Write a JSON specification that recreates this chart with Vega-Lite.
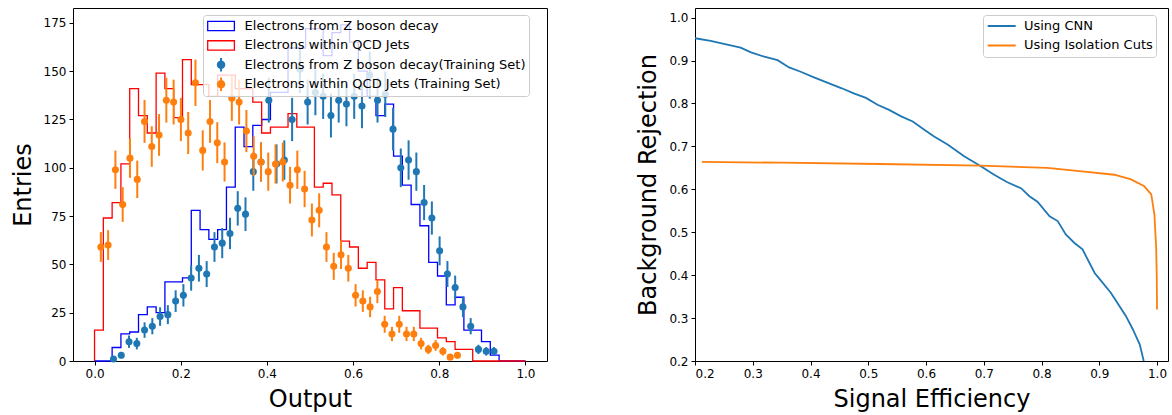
{
  "$schema": "https://vega.github.io/schema/vega-lite/v6.json",
  "background": "white",
  "padding": {"left": 10, "top": 7, "right": 5, "bottom": 0},
  "bounds": "flush",
  "spacing": 148,
  "config": {
    "font": "DejaVu Sans",
    "view": {"stroke": "black", "strokeWidth": 1},
    "axis": {
      "domain": false, "grid": false, "ticks": true, "tickColor": "black", "tickSize": 4, "tickWidth": 1,
      "labelFont": "DejaVu Sans", "labelFontSize": 12, "labelColor": "black", "labelPadding": 3,
      "titleFont": "DejaVu Sans", "titleFontSize": 24, "titleFontWeight": "normal", "titleColor": "black", "titlePadding": 8
    },
    "legend": {
      "labelFont": "DejaVu Sans", "labelFontSize": 13, "labelColor": "black", "labelLimit": 600,
      "fillColor": "rgba(255,255,255,0.8)", "strokeColor": "#cccccc", "cornerRadius": 3, "padding": 3
    }
  },
  "datasets": {
    "hist": [
      {"series": "Electrons from Z boson decay", "edge": 0, "count": 0},
      {"series": "Electrons from Z boson decay", "edge": 0.0204, "count": 0},
      {"series": "Electrons from Z boson decay", "edge": 0.0408, "count": 0},
      {"series": "Electrons from Z boson decay", "edge": 0.0612, "count": 7},
      {"series": "Electrons from Z boson decay", "edge": 0.0816, "count": 14},
      {"series": "Electrons from Z boson decay", "edge": 0.102, "count": 15},
      {"series": "Electrons from Z boson decay", "edge": 0.1224, "count": 24},
      {"series": "Electrons from Z boson decay", "edge": 0.1429, "count": 28},
      {"series": "Electrons from Z boson decay", "edge": 0.1633, "count": 25},
      {"series": "Electrons from Z boson decay", "edge": 0.1837, "count": 41},
      {"series": "Electrons from Z boson decay", "edge": 0.2041, "count": 41},
      {"series": "Electrons from Z boson decay", "edge": 0.2245, "count": 43},
      {"series": "Electrons from Z boson decay", "edge": 0.2449, "count": 78},
      {"series": "Electrons from Z boson decay", "edge": 0.2653, "count": 68},
      {"series": "Electrons from Z boson decay", "edge": 0.2857, "count": 63},
      {"series": "Electrons from Z boson decay", "edge": 0.3061, "count": 68},
      {"series": "Electrons from Z boson decay", "edge": 0.3265, "count": 90},
      {"series": "Electrons from Z boson decay", "edge": 0.3469, "count": 121},
      {"series": "Electrons from Z boson decay", "edge": 0.3673, "count": 111},
      {"series": "Electrons from Z boson decay", "edge": 0.3878, "count": 122},
      {"series": "Electrons from Z boson decay", "edge": 0.4082, "count": 125},
      {"series": "Electrons from Z boson decay", "edge": 0.4286, "count": 139},
      {"series": "Electrons from Z boson decay", "edge": 0.449, "count": 139},
      {"series": "Electrons from Z boson decay", "edge": 0.4694, "count": 162},
      {"series": "Electrons from Z boson decay", "edge": 0.4898, "count": 162},
      {"series": "Electrons from Z boson decay", "edge": 0.5102, "count": 172},
      {"series": "Electrons from Z boson decay", "edge": 0.5306, "count": 172},
      {"series": "Electrons from Z boson decay", "edge": 0.551, "count": 158},
      {"series": "Electrons from Z boson decay", "edge": 0.5714, "count": 170},
      {"series": "Electrons from Z boson decay", "edge": 0.5918, "count": 174},
      {"series": "Electrons from Z boson decay", "edge": 0.6122, "count": 165},
      {"series": "Electrons from Z boson decay", "edge": 0.6327, "count": 150},
      {"series": "Electrons from Z boson decay", "edge": 0.6531, "count": 137},
      {"series": "Electrons from Z boson decay", "edge": 0.6735, "count": 127},
      {"series": "Electrons from Z boson decay", "edge": 0.6939, "count": 133},
      {"series": "Electrons from Z boson decay", "edge": 0.7143, "count": 106},
      {"series": "Electrons from Z boson decay", "edge": 0.7347, "count": 91},
      {"series": "Electrons from Z boson decay", "edge": 0.7551, "count": 81},
      {"series": "Electrons from Z boson decay", "edge": 0.7755, "count": 70},
      {"series": "Electrons from Z boson decay", "edge": 0.7959, "count": 51},
      {"series": "Electrons from Z boson decay", "edge": 0.8163, "count": 44},
      {"series": "Electrons from Z boson decay", "edge": 0.8367, "count": 29},
      {"series": "Electrons from Z boson decay", "edge": 0.8571, "count": 33},
      {"series": "Electrons from Z boson decay", "edge": 0.8776, "count": 16},
      {"series": "Electrons from Z boson decay", "edge": 0.898, "count": 16},
      {"series": "Electrons from Z boson decay", "edge": 0.9184, "count": 10},
      {"series": "Electrons from Z boson decay", "edge": 0.9388, "count": 3},
      {"series": "Electrons from Z boson decay", "edge": 0.9592, "count": 0},
      {"series": "Electrons from Z boson decay", "edge": 0.9796, "count": 0},
      {"series": "Electrons from Z boson decay", "edge": 1.0, "count": 0},
      {"series": "Electrons within QCD Jets", "edge": 0, "count": 0},
      {"series": "Electrons within QCD Jets", "edge": 0.0204, "count": 16},
      {"series": "Electrons within QCD Jets", "edge": 0.0408, "count": 74},
      {"series": "Electrons within QCD Jets", "edge": 0.0612, "count": 82},
      {"series": "Electrons within QCD Jets", "edge": 0.0816, "count": 102},
      {"series": "Electrons within QCD Jets", "edge": 0.102, "count": 141},
      {"series": "Electrons within QCD Jets", "edge": 0.1224, "count": 127},
      {"series": "Electrons within QCD Jets", "edge": 0.1429, "count": 118},
      {"series": "Electrons within QCD Jets", "edge": 0.1633, "count": 149},
      {"series": "Electrons within QCD Jets", "edge": 0.1837, "count": 141},
      {"series": "Electrons within QCD Jets", "edge": 0.2041, "count": 126},
      {"series": "Electrons within QCD Jets", "edge": 0.2245, "count": 156},
      {"series": "Electrons within QCD Jets", "edge": 0.2449, "count": 143},
      {"series": "Electrons within QCD Jets", "edge": 0.2653, "count": 143},
      {"series": "Electrons within QCD Jets", "edge": 0.2857, "count": 137},
      {"series": "Electrons within QCD Jets", "edge": 0.3061, "count": 148},
      {"series": "Electrons within QCD Jets", "edge": 0.3265, "count": 148},
      {"series": "Electrons within QCD Jets", "edge": 0.3469, "count": 141},
      {"series": "Electrons within QCD Jets", "edge": 0.3673, "count": 141},
      {"series": "Electrons within QCD Jets", "edge": 0.3878, "count": 134},
      {"series": "Electrons within QCD Jets", "edge": 0.4082, "count": 118},
      {"series": "Electrons within QCD Jets", "edge": 0.4286, "count": 121},
      {"series": "Electrons within QCD Jets", "edge": 0.449, "count": 121},
      {"series": "Electrons within QCD Jets", "edge": 0.4694, "count": 128},
      {"series": "Electrons within QCD Jets", "edge": 0.4898, "count": 121},
      {"series": "Electrons within QCD Jets", "edge": 0.5102, "count": 121},
      {"series": "Electrons within QCD Jets", "edge": 0.5306, "count": 90},
      {"series": "Electrons within QCD Jets", "edge": 0.551, "count": 92},
      {"series": "Electrons within QCD Jets", "edge": 0.5714, "count": 86},
      {"series": "Electrons within QCD Jets", "edge": 0.5918, "count": 62},
      {"series": "Electrons within QCD Jets", "edge": 0.6122, "count": 59},
      {"series": "Electrons within QCD Jets", "edge": 0.6327, "count": 48},
      {"series": "Electrons within QCD Jets", "edge": 0.6531, "count": 51},
      {"series": "Electrons within QCD Jets", "edge": 0.6735, "count": 42},
      {"series": "Electrons within QCD Jets", "edge": 0.6939, "count": 27},
      {"series": "Electrons within QCD Jets", "edge": 0.7143, "count": 38},
      {"series": "Electrons within QCD Jets", "edge": 0.7347, "count": 26},
      {"series": "Electrons within QCD Jets", "edge": 0.7551, "count": 26},
      {"series": "Electrons within QCD Jets", "edge": 0.7755, "count": 17},
      {"series": "Electrons within QCD Jets", "edge": 0.7959, "count": 17},
      {"series": "Electrons within QCD Jets", "edge": 0.8163, "count": 12},
      {"series": "Electrons within QCD Jets", "edge": 0.8367, "count": 10},
      {"series": "Electrons within QCD Jets", "edge": 0.8571, "count": 6},
      {"series": "Electrons within QCD Jets", "edge": 0.8776, "count": 6},
      {"series": "Electrons within QCD Jets", "edge": 0.898, "count": 0},
      {"series": "Electrons within QCD Jets", "edge": 0.9184, "count": 0},
      {"series": "Electrons within QCD Jets", "edge": 0.9388, "count": 0},
      {"series": "Electrons within QCD Jets", "edge": 0.9592, "count": 0},
      {"series": "Electrons within QCD Jets", "edge": 0.9796, "count": 0},
      {"series": "Electrons within QCD Jets", "edge": 1.0, "count": 0}
    ],
    "pts": [
      {"s": "Z", "x": 0.044, "y": 1, "err": 1.0},
      {"s": "Z", "x": 0.062, "y": 3, "err": 1.7},
      {"s": "Z", "x": 0.080, "y": 10, "err": 3.2},
      {"s": "Z", "x": 0.0981, "y": 9, "err": 3.0},
      {"s": "Z", "x": 0.1161, "y": 16, "err": 4.0},
      {"s": "Z", "x": 0.1341, "y": 18, "err": 4.2},
      {"s": "Z", "x": 0.1521, "y": 23, "err": 4.8},
      {"s": "Z", "x": 0.1701, "y": 24, "err": 4.9},
      {"s": "Z", "x": 0.1882, "y": 31, "err": 5.6},
      {"s": "Z", "x": 0.2062, "y": 34, "err": 5.8},
      {"s": "Z", "x": 0.2242, "y": 43, "err": 6.6},
      {"s": "Z", "x": 0.2422, "y": 48, "err": 6.9},
      {"s": "Z", "x": 0.2602, "y": 45, "err": 6.7},
      {"s": "Z", "x": 0.2783, "y": 59, "err": 7.7},
      {"s": "Z", "x": 0.2963, "y": 61, "err": 7.8},
      {"s": "Z", "x": 0.3143, "y": 66, "err": 8.1},
      {"s": "Z", "x": 0.3323, "y": 79, "err": 8.9},
      {"s": "Z", "x": 0.3503, "y": 76, "err": 8.7},
      {"s": "Z", "x": 0.3684, "y": 98, "err": 9.9},
      {"s": "Z", "x": 0.3864, "y": 103, "err": 10.1},
      {"s": "Z", "x": 0.4044, "y": 135, "err": 11.6},
      {"s": "Z", "x": 0.4224, "y": 102, "err": 10.1},
      {"s": "Z", "x": 0.4404, "y": 104, "err": 10.2},
      {"s": "Z", "x": 0.4585, "y": 125, "err": 11.2},
      {"s": "Z", "x": 0.4765, "y": 151, "err": 12.3},
      {"s": "Z", "x": 0.4945, "y": 134, "err": 11.6},
      {"s": "Z", "x": 0.5125, "y": 139, "err": 11.8},
      {"s": "Z", "x": 0.5305, "y": 137, "err": 11.7},
      {"s": "Z", "x": 0.5486, "y": 127, "err": 11.3},
      {"s": "Z", "x": 0.5666, "y": 135, "err": 11.6},
      {"s": "Z", "x": 0.5846, "y": 133, "err": 11.5},
      {"s": "Z", "x": 0.6026, "y": 137, "err": 11.7},
      {"s": "Z", "x": 0.6206, "y": 132, "err": 11.5},
      {"s": "Z", "x": 0.6387, "y": 148, "err": 12.2},
      {"s": "Z", "x": 0.6567, "y": 135, "err": 11.6},
      {"s": "Z", "x": 0.6747, "y": 138, "err": 11.7},
      {"s": "Z", "x": 0.6927, "y": 120, "err": 11.0},
      {"s": "Z", "x": 0.7107, "y": 100, "err": 10.0},
      {"s": "Z", "x": 0.7288, "y": 104, "err": 10.2},
      {"s": "Z", "x": 0.7468, "y": 98, "err": 9.9},
      {"s": "Z", "x": 0.7648, "y": 82, "err": 9.1},
      {"s": "Z", "x": 0.7828, "y": 74, "err": 8.6},
      {"s": "Z", "x": 0.8008, "y": 57, "err": 7.5},
      {"s": "Z", "x": 0.8189, "y": 45, "err": 6.7},
      {"s": "Z", "x": 0.8369, "y": 38, "err": 6.2},
      {"s": "Z", "x": 0.8549, "y": 28, "err": 5.3},
      {"s": "Z", "x": 0.8729, "y": 18, "err": 4.2},
      {"s": "Z", "x": 0.8909, "y": 6, "err": 2.4},
      {"s": "Z", "x": 0.909, "y": 5, "err": 2.2},
      {"s": "Z", "x": 0.927, "y": 5, "err": 2.2},
      {"s": "QCD", "x": 0.0146, "y": 59, "err": 7.7},
      {"s": "QCD", "x": 0.0315, "y": 60, "err": 7.7},
      {"s": "QCD", "x": 0.0484, "y": 99, "err": 9.9},
      {"s": "QCD", "x": 0.0653, "y": 81, "err": 9.0},
      {"s": "QCD", "x": 0.0822, "y": 105, "err": 10.2},
      {"s": "QCD", "x": 0.0991, "y": 94, "err": 9.7},
      {"s": "QCD", "x": 0.116, "y": 124, "err": 11.1},
      {"s": "QCD", "x": 0.1328, "y": 111, "err": 10.5},
      {"s": "QCD", "x": 0.1497, "y": 117, "err": 10.8},
      {"s": "QCD", "x": 0.1666, "y": 135, "err": 11.6},
      {"s": "QCD", "x": 0.1835, "y": 134, "err": 11.6},
      {"s": "QCD", "x": 0.2004, "y": 125, "err": 11.2},
      {"s": "QCD", "x": 0.2173, "y": 118, "err": 10.9},
      {"s": "QCD", "x": 0.2342, "y": 144, "err": 12.0},
      {"s": "QCD", "x": 0.2511, "y": 109, "err": 10.4},
      {"s": "QCD", "x": 0.268, "y": 124, "err": 11.1},
      {"s": "QCD", "x": 0.2848, "y": 113, "err": 10.6},
      {"s": "QCD", "x": 0.3017, "y": 103, "err": 10.1},
      {"s": "QCD", "x": 0.3186, "y": 136, "err": 11.7},
      {"s": "QCD", "x": 0.3355, "y": 134, "err": 11.6},
      {"s": "QCD", "x": 0.3524, "y": 119, "err": 10.9},
      {"s": "QCD", "x": 0.3693, "y": 106, "err": 10.3},
      {"s": "QCD", "x": 0.3862, "y": 103, "err": 10.1},
      {"s": "QCD", "x": 0.4031, "y": 98, "err": 9.9},
      {"s": "QCD", "x": 0.42, "y": 102, "err": 10.1},
      {"s": "QCD", "x": 0.4369, "y": 103, "err": 10.1},
      {"s": "QCD", "x": 0.4537, "y": 91, "err": 9.5},
      {"s": "QCD", "x": 0.4706, "y": 99, "err": 9.9},
      {"s": "QCD", "x": 0.4875, "y": 89, "err": 9.4},
      {"s": "QCD", "x": 0.5044, "y": 73, "err": 8.5},
      {"s": "QCD", "x": 0.5213, "y": 78, "err": 8.8},
      {"s": "QCD", "x": 0.5382, "y": 59, "err": 7.7},
      {"s": "QCD", "x": 0.5551, "y": 49, "err": 7.0},
      {"s": "QCD", "x": 0.572, "y": 55, "err": 7.4},
      {"s": "QCD", "x": 0.5889, "y": 48, "err": 6.9},
      {"s": "QCD", "x": 0.6058, "y": 34, "err": 5.8},
      {"s": "QCD", "x": 0.6226, "y": 31, "err": 5.6},
      {"s": "QCD", "x": 0.6395, "y": 28, "err": 5.3},
      {"s": "QCD", "x": 0.6564, "y": 36, "err": 6.0},
      {"s": "QCD", "x": 0.6733, "y": 19, "err": 4.4},
      {"s": "QCD", "x": 0.6902, "y": 14, "err": 3.7},
      {"s": "QCD", "x": 0.7071, "y": 19, "err": 4.4},
      {"s": "QCD", "x": 0.724, "y": 14, "err": 3.7},
      {"s": "QCD", "x": 0.7409, "y": 14, "err": 3.7},
      {"s": "QCD", "x": 0.7578, "y": 9, "err": 3.0},
      {"s": "QCD", "x": 0.7747, "y": 6, "err": 2.4},
      {"s": "QCD", "x": 0.7915, "y": 8, "err": 2.8},
      {"s": "QCD", "x": 0.8084, "y": 5, "err": 2.2},
      {"s": "QCD", "x": 0.8253, "y": 2, "err": 1.4},
      {"s": "QCD", "x": 0.8422, "y": 3, "err": 1.7}
    ],
    "roc": [
      {"m": "Using CNN", "x": 0.2, "y": 0.952},
      {"m": "Using CNN", "x": 0.227, "y": 0.946},
      {"m": "Using CNN", "x": 0.25, "y": 0.939},
      {"m": "Using CNN", "x": 0.279, "y": 0.930},
      {"m": "Using CNN", "x": 0.297, "y": 0.919},
      {"m": "Using CNN", "x": 0.32, "y": 0.909},
      {"m": "Using CNN", "x": 0.343, "y": 0.901},
      {"m": "Using CNN", "x": 0.363, "y": 0.884},
      {"m": "Using CNN", "x": 0.383, "y": 0.874},
      {"m": "Using CNN", "x": 0.406, "y": 0.861},
      {"m": "Using CNN", "x": 0.43, "y": 0.848},
      {"m": "Using CNN", "x": 0.453, "y": 0.836},
      {"m": "Using CNN", "x": 0.476, "y": 0.823},
      {"m": "Using CNN", "x": 0.496, "y": 0.813},
      {"m": "Using CNN", "x": 0.516, "y": 0.797},
      {"m": "Using CNN", "x": 0.536, "y": 0.785},
      {"m": "Using CNN", "x": 0.557, "y": 0.770},
      {"m": "Using CNN", "x": 0.577, "y": 0.758},
      {"m": "Using CNN", "x": 0.597, "y": 0.739},
      {"m": "Using CNN", "x": 0.614, "y": 0.723},
      {"m": "Using CNN", "x": 0.638, "y": 0.704},
      {"m": "Using CNN", "x": 0.666, "y": 0.677},
      {"m": "Using CNN", "x": 0.695, "y": 0.654},
      {"m": "Using CNN", "x": 0.718, "y": 0.634},
      {"m": "Using CNN", "x": 0.74, "y": 0.617},
      {"m": "Using CNN", "x": 0.765, "y": 0.602},
      {"m": "Using CNN", "x": 0.779, "y": 0.584},
      {"m": "Using CNN", "x": 0.793, "y": 0.571},
      {"m": "Using CNN", "x": 0.814, "y": 0.537},
      {"m": "Using CNN", "x": 0.828, "y": 0.526},
      {"m": "Using CNN", "x": 0.842, "y": 0.495},
      {"m": "Using CNN", "x": 0.857, "y": 0.475},
      {"m": "Using CNN", "x": 0.871, "y": 0.460},
      {"m": "Using CNN", "x": 0.892, "y": 0.405},
      {"m": "Using CNN", "x": 0.900, "y": 0.392},
      {"m": "Using CNN", "x": 0.920, "y": 0.359},
      {"m": "Using CNN", "x": 0.946, "y": 0.305},
      {"m": "Using CNN", "x": 0.958, "y": 0.274},
      {"m": "Using CNN", "x": 0.970, "y": 0.239},
      {"m": "Using CNN", "x": 0.977, "y": 0.2},
      {"m": "Using Isolation Cuts", "x": 0.212, "y": 0.664},
      {"m": "Using Isolation Cuts", "x": 0.35, "y": 0.662},
      {"m": "Using Isolation Cuts", "x": 0.52, "y": 0.659},
      {"m": "Using Isolation Cuts", "x": 0.695, "y": 0.655},
      {"m": "Using Isolation Cuts", "x": 0.81, "y": 0.650},
      {"m": "Using Isolation Cuts", "x": 0.87, "y": 0.642},
      {"m": "Using Isolation Cuts", "x": 0.926, "y": 0.634},
      {"m": "Using Isolation Cuts", "x": 0.955, "y": 0.623},
      {"m": "Using Isolation Cuts", "x": 0.978, "y": 0.607},
      {"m": "Using Isolation Cuts", "x": 0.99, "y": 0.588},
      {"m": "Using Isolation Cuts", "x": 0.9955, "y": 0.541},
      {"m": "Using Isolation Cuts", "x": 0.9985, "y": 0.464},
      {"m": "Using Isolation Cuts", "x": 0.9995, "y": 0.40},
      {"m": "Using Isolation Cuts", "x": 1.0, "y": 0.32}
    ]
  },
  "resolve": {"scale": {"x": "independent", "y": "independent", "color": "independent", "stroke": "independent"}, "legend": {"color": "independent", "stroke": "independent"}},
  "hconcat": [
    {
      "width": 474,
      "height": 353,
      "layer": [
        {
          "data": {"name": "hist"},
          "mark": {"type": "line", "interpolate": "step-before", "strokeWidth": 1.3},
          "encoding": {
            "x": {"field": "edge", "type": "quantitative", "title": "Output",
                  "scale": {"domain": [-0.05, 1.05], "nice": false, "zero": false},
                  "axis": {"values": [0, 0.2, 0.4, 0.6, 0.8, 1.0], "format": ".1f"}},
            "y": {"field": "count", "type": "quantitative", "title": "Entries",
                  "scale": {"domain": [0, 182.7], "nice": false},
                  "axis": {"values": [0, 25, 50, 75, 100, 125, 150, 175]}},
            "stroke": {"field": "series", "type": "nominal",
              "scale": {"domain": ["Electrons from Z boson decay", "Electrons within QCD Jets", "Electrons from Z boson decay(Training Set)", "Electrons within QCD Jets (Training Set)"],
                        "range": ["#0000ff", "#ff0000", "#1f77b4", "#ff7f0e"]},
              "legend": {
                "title": null, "orient": "none", "legendX": 130, "legendY": 7,
                "symbolSize": 100, "symbolStrokeWidth": 1.5, "symbolOffset": 8.55, "labelOffset": 17, "rowPadding": 3.4, "clipHeight": 16,
                "encode": {"symbols": {"update": {
                  "shape": {"signal": "indexof(['Electrons from Z boson decay','Electrons within QCD Jets'], datum.value) >= 0 ? 'M-2.67,-0.93H2.67V0.93H-2.67Z' : 'M0,-1.34V1.34M0.65,0A0.65,0.65,0,1,1,-0.65,0A0.65,0.65,0,1,1,0.65,0Z'"},
                  "fill": {"signal": "datum.value == 'Electrons from Z boson decay(Training Set)' ? '#1f77b4' : (datum.value == 'Electrons within QCD Jets (Training Set)' ? '#ff7f0e' : 'transparent')"},
                  "strokeWidth": {"signal": "indexof(['Electrons from Z boson decay','Electrons within QCD Jets'], datum.value) >= 0 ? 1.3 : 2"},
                  "opacity": {"value": 1}
                }}}
              }}
          }
        },
        {
          "data": {"name": "pts"},
          "transform": [{"filter": "datum.s == 'Z'"}],
          "mark": {"type": "errorbar", "color": "#1f77b4", "thickness": 2},
          "encoding": {
            "x": {"field": "x", "type": "quantitative", "title": "Output"},
            "y": {"field": "y", "type": "quantitative", "title": "Entries"},
            "yError": {"field": "err"}
          }
        },
        {
          "data": {"name": "pts"},
          "transform": [{"filter": "datum.s == 'Z'"}],
          "mark": {"type": "circle", "color": "#1f77b4", "size": 50, "opacity": 1},
          "encoding": {
            "x": {"field": "x", "type": "quantitative", "title": "Output"},
            "y": {"field": "y", "type": "quantitative", "title": "Entries"}
          }
        },
        {
          "data": {"name": "pts"},
          "transform": [{"filter": "datum.s == 'QCD'"}],
          "mark": {"type": "errorbar", "color": "#ff7f0e", "thickness": 2},
          "encoding": {
            "x": {"field": "x", "type": "quantitative", "title": "Output"},
            "y": {"field": "y", "type": "quantitative", "title": "Entries"},
            "yError": {"field": "err"}
          }
        },
        {
          "data": {"name": "pts"},
          "transform": [{"filter": "datum.s == 'QCD'"}],
          "mark": {"type": "circle", "color": "#ff7f0e", "size": 50, "opacity": 1},
          "encoding": {
            "x": {"field": "x", "type": "quantitative", "title": "Output"},
            "y": {"field": "y", "type": "quantitative", "title": "Entries"}
          }
        }
      ]
    },
    {
      "width": 473,
      "height": 353,
      "data": {"name": "roc"},
      "mark": {"type": "line", "strokeWidth": 1.8, "clip": true},
      "encoding": {
        "x": {"field": "x", "type": "quantitative", "title": "Signal Efficiency",
              "scale": {"domain": [0.2, 1.019], "nice": false, "zero": false},
              "axis": {"values": [0.2, 0.3, 0.4, 0.5, 0.6, 0.7, 0.8, 0.9, 1.0], "format": ".1f"}},
        "y": {"field": "y", "type": "quantitative", "title": "Background Rejection",
              "scale": {"domain": [0.2, 1.0225], "nice": false, "zero": false},
              "axis": {"values": [0.2, 0.3, 0.4, 0.5, 0.6, 0.7, 0.8, 0.9, 1.0], "format": ".1f"}},
        "color": {"field": "m", "type": "nominal",
          "scale": {"domain": ["Using CNN", "Using Isolation Cuts"], "range": ["#1f77b4", "#ff7f0e"]},
          "legend": {
            "title": null, "orient": "none", "legendX": 288, "legendY": 7,
            "symbolSize": 100, "symbolStrokeWidth": 2, "symbolOffset": 9.2, "labelOffset": 15.7, "rowPadding": 3.4, "clipHeight": 16,
            "encode": {"symbols": {"update": {
              "shape": {"value": "M-2.8,0H2.8"},
              "fill": {"value": "transparent"},
              "strokeWidth": {"value": 2},
              "opacity": {"value": 1}
            }}}
          }}
      }
    }
  ]
}
